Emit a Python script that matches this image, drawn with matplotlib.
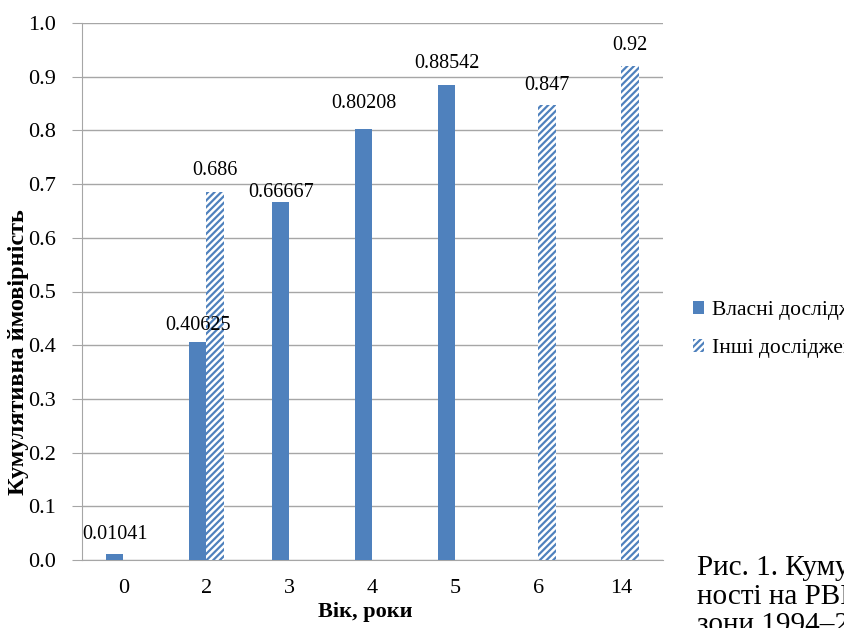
import numpy as np
import matplotlib
matplotlib.use("Agg")
import matplotlib.pyplot as plt

plt.rcParams['font.family'] = ['Liberation Serif', 'DejaVu Serif']
plt.rcParams['hatch.linewidth'] = 1.6

categories = ["0", "2", "3", "4", "5", "6", "14"]
own_study = [0.01041, 0.40625, 0.66667, 0.80208, 0.88542, np.nan, np.nan]
other_studies = [np.nan, 0.686, np.nan, np.nan, np.nan, 0.847, 0.92]
own_labels = ["0.01041", "0.40625", "0.66667", "0.80208", "0.88542", "", ""]
other_labels = ["", "0.686", "", "", "", "0.847", "0.92"]
series_names = ["Власні дослідження", "Інші дослідження"]

# vertical gap (points) between bar top and label centre
own_label_gap = [14.5, 12, 6.5, 18.5, 15.5, 0, 0]
other_label_gap = [0, 15, 0, 0, 0, 14.5, 15]

blue = "#4F81BD"
grid_col = "#A6A6A6"

fig = plt.figure(figsize=(8.45, 6.28), dpi=100)
ax = fig.add_axes([82 / 845, 1 - 560 / 628, 581 / 845, 537 / 628])

x = np.arange(len(categories))
w = 0.205
b1 = ax.bar(x - w / 2, own_study, width=w, color=blue, label=series_names[0], zorder=3)
b2 = ax.bar(x + w / 2, other_studies, width=w, color="white", edgecolor=blue,
            linewidth=0, hatch="/////", label=series_names[1], zorder=3)

for xi, v, t, g in zip(x, own_study, own_labels, own_label_gap):
    if t:
        ax.annotate(t, (xi - w / 2, v), xytext=(0, g), textcoords="offset points",
                    ha="center", va="center", fontsize=14.5, zorder=4)
for xi, v, t, g in zip(x, other_studies, other_labels, other_label_gap):
    if t:
        ax.annotate(t, (xi + w / 2, v), xytext=(0, g), textcoords="offset points",
                    ha="center", va="center", fontsize=14.5, zorder=4)

ax.set_xlim(-0.5, len(categories) - 0.5)
ax.set_ylim(0, 1.0)
ax.set_yticks(np.arange(0, 1.01, 0.1))
ax.set_yticklabels([f"{v:.1f}" for v in np.arange(0, 1.01, 0.1)], fontsize=16)
ax.set_xticks(x)
ax.set_xticklabels(categories, fontsize=16)
ax.tick_params(axis="x", length=0, pad=14)
ax.tick_params(axis="y", length=7, color=grid_col, pad=12)
ax.yaxis.grid(True, color=grid_col, linewidth=1, zorder=0)
ax.set_axisbelow(True)
for s in ["top", "right"]:
    ax.spines[s].set_visible(False)
ax.spines["left"].set_color(grid_col)
ax.spines["bottom"].set_color(grid_col)

ax.set_ylabel("Кумулятивна ймовірність", fontsize=17.5, fontweight="bold")
ax.yaxis.set_label_coords(-63 / 581, (560 - 352) / 537)
ax.set_xlabel("Вік, роки", fontsize=16, fontweight="bold")
ax.xaxis.set_label_coords((365 - 82) / 581, -(612 - 560) / 537)
ax.xaxis.label.set_verticalalignment("center")
ax.yaxis.label.set_verticalalignment("center")

fig.legend(handles=[b1, b2], labels=series_names, loc="upper left",
           bbox_to_anchor=(684 / 845, 1 - 292 / 628), frameon=False,
           fontsize=15.5, handlelength=0.55, handleheight=0.55, handletextpad=0.35,
           labelspacing=0.9, borderaxespad=0)

caption = ["Рис. 1. Кумулятивна ймовір-", "ності на РВІ у дітей з",
           "зони 1994–2013 рр."]
for i, line in enumerate(caption):
    fig.text(697 / 845, 1 - (568 + i * 28.5) / 628, line, fontsize=21, va="center")

fig.savefig("out.png", dpi=100)
